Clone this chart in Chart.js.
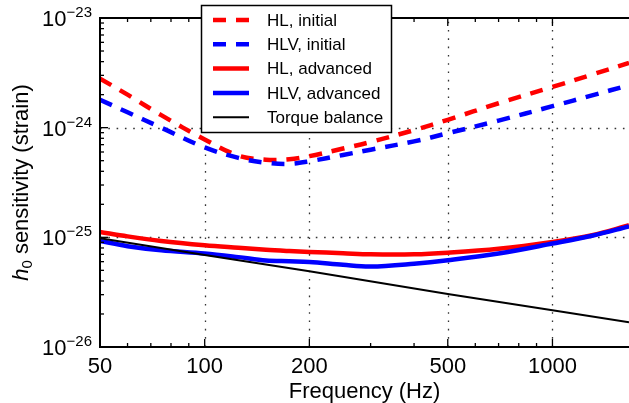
<!DOCTYPE html>
<html>
<head>
<meta charset="utf-8">
<script src="https://cdn.jsdelivr.net/npm/chart.js@4"></script>
<style>
  html, body { margin: 0; padding: 0; background: #fff; }
  #wrap { width: 629px; height: 403px; }
</style>
</head>
<body>
<div id="wrap"><canvas id="c"></canvas></div>
<script>
// ---- data ----
const freq = [50, 60, 75, 100, 125, 150, 175, 200, 250, 300, 400, 500, 700, 1000, 1300, 1660];
const hlInitial   = [2.8e-24, 2.0e-24, 1.30e-24, 7.8e-25, 5.56e-25, 5.1e-25, 5.15e-25, 5.5e-25, 6.45e-25, 7.4e-25, 9.5e-25, 1.18e-24, 1.67e-24, 2.35e-24, 3.05e-24, 3.9e-24];
const hlvInitial  = [1.80e-24, 1.38e-24, 1.0e-24, 6.6e-25, 5.3e-25, 4.79e-25, 4.68e-25, 4.94e-25, 5.64e-25, 6.3e-25, 7.5e-25, 8.9e-25, 1.16e-24, 1.57e-24, 1.97e-24, 2.44e-24];
const hlAdvanced  = [1.12e-25, 1.02e-25, 9.27e-26, 8.47e-26, 8.03e-26, 7.7e-26, 7.5e-26, 7.36e-26, 7.16e-26, 7.0e-26, 7.0e-26, 7.24e-26, 7.87e-26, 9.08e-26, 1.045e-25, 1.29e-25];
const hlvAdvanced = [9.27e-26, 8.3e-26, 7.62e-26, 7.13e-26, 6.6e-26, 6.14e-26, 6.05e-26, 5.97e-26, 5.62e-26, 5.42e-26, 5.75e-26, 6.18e-26, 7.11e-26, 8.77e-26, 1.035e-25, 1.26e-25];
const torqueFreq  = [50, 100, 200, 500, 1000, 1660];
const torque      = [9.8e-26, 6.9e-26, 4.9e-26, 3.05e-26, 2.16e-26, 1.68e-26];

const seriesLabels = ['HL, initial', 'HLV, initial', 'HL, advanced', 'HLV, advanced', 'Torque balance'];

const xMajorTicks = [50, 100, 200, 500, 1000];
const xMinorTicks = [60, 70, 80, 90, 300, 400, 600, 700, 800, 900];
const xGridTicks  = [100, 200, 500, 1000];
const yMajorTicks = [1e-26, 1e-25, 1e-24, 1e-23];
const yMajorExp   = ['\u221226', '\u221225', '\u221224', '\u221223'];
const yMinorTicks = [2e-26,3e-26,4e-26,5e-26,6e-26,7e-26,8e-26,9e-26,
                     2e-25,3e-25,4e-25,5e-25,6e-25,7e-25,8e-25,9e-25,
                     2e-24,3e-24,4e-24,5e-24,6e-24,7e-24,8e-24,9e-24];
const yGridTicks  = [1e-25, 1e-24];
const xTitle = 'Frequency (Hz)';

const pts = (xs, ys) => xs.map((v, i) => ({ x: v, y: ys[i] }));
const FONT = '"Liberation Sans", Arial, Helvetica, sans-serif';

const deco = {
  id: 'deco',
  beforeDatasetsDraw(chart) {
    const { ctx, chartArea: a, scales: { x, y } } = chart;
    ctx.save();
    ctx.strokeStyle = '#333';
    ctx.lineWidth = 1.3;
    ctx.setLineDash([1.6, 6.7]);
    xGridTicks.forEach(v => {
      const p = Math.round(x.getPixelForValue(v)) + 0.5;
      ctx.beginPath(); ctx.moveTo(p, a.bottom); ctx.lineTo(p, a.top); ctx.stroke();
    });
    yGridTicks.forEach(v => {
      const p = Math.round(y.getPixelForValue(v)) + 0.5;
      ctx.beginPath(); ctx.moveTo(a.left, p); ctx.lineTo(a.right, p); ctx.stroke();
    });
    ctx.restore();
  },
  afterDatasetsDraw(chart) {
    const { ctx, chartArea: a, scales: { x, y } } = chart;
    ctx.save();
    ctx.strokeStyle = '#000';
    ctx.lineWidth = 1.3;
    const tickX = (v, len) => {
      const p = x.getPixelForValue(v);
      ctx.beginPath(); ctx.moveTo(p, a.bottom); ctx.lineTo(p, a.bottom - len); ctx.stroke();
      ctx.beginPath(); ctx.moveTo(p, a.top); ctx.lineTo(p, a.top + len); ctx.stroke();
    };
    const tickY = (v, len) => {
      const p = y.getPixelForValue(v);
      ctx.beginPath(); ctx.moveTo(a.left, p); ctx.lineTo(a.left + len, p); ctx.stroke();
    };
    xMajorTicks.forEach(v => tickX(v, 8));
    xMinorTicks.forEach(v => tickX(v, 4));
    yMajorTicks.forEach(v => tickY(v, 8));
    yMinorTicks.forEach(v => tickY(v, 4));
    ctx.lineWidth = 2;
    ctx.beginPath();
    ctx.moveTo(a.right + 2, a.top); ctx.lineTo(a.left, a.top); ctx.lineTo(a.left, a.bottom); ctx.lineTo(a.right + 2, a.bottom);
    ctx.stroke();

    ctx.fillStyle = '#000';
    ctx.font = '22px ' + FONT;
    ctx.textAlign = 'center';
    ctx.textBaseline = 'alphabetic';
    xMajorTicks.forEach(v => {
      ctx.fillText(String(v), x.getPixelForValue(v), a.bottom + 26);
    });
    ctx.fillText(xTitle, (a.left + a.right) / 2, a.bottom + 51);

    yMajorTicks.forEach((v, i) => {
      const p = y.getPixelForValue(v);
      ctx.font = '15px ' + FONT;
      const ew = ctx.measureText(yMajorExp[i]).width;
      const right = a.left - 8;
      ctx.textAlign = 'left';
      ctx.fillText(yMajorExp[i], right - ew, p - 1);
      ctx.font = '22px ' + FONT;
      ctx.textAlign = 'right';
      ctx.fillText('10', right - ew, p + 8);
    });

    ctx.save();
    ctx.translate(28, (a.top + a.bottom) / 2);
    ctx.rotate(-Math.PI / 2);
    ctx.textAlign = 'left';
    const partH = 'h', part0 = '0', rest = ' sensitivity (strain)';
    ctx.font = 'italic 22px ' + FONT; const wH = ctx.measureText(partH).width;
    ctx.font = '15px ' + FONT; const w0 = ctx.measureText(part0).width;
    ctx.font = '22px ' + FONT; const wR = ctx.measureText(rest).width;
    let sx = -(wH + w0 + wR) / 2;
    ctx.font = 'italic 22px ' + FONT; ctx.fillText(partH, sx, 0); sx += wH;
    ctx.font = '15px ' + FONT; ctx.fillText(part0, sx, 4); sx += w0;
    ctx.font = '22px ' + FONT; ctx.fillText(rest, sx, 0);
    ctx.restore();

    const bx = 201.5, by = 5.5, bw = 190, bh = 127;
    ctx.fillStyle = '#fff';
    ctx.fillRect(bx, by, bw, bh);
    ctx.lineWidth = 1.5;
    ctx.strokeStyle = '#000';
    ctx.strokeRect(bx, by, bw, bh);
    ctx.font = '17px ' + FONT;
    ctx.textAlign = 'left';
    ctx.textBaseline = 'middle';
    chart.data.datasets.forEach((ds, i) => {
      const cy = 20 + i * 24.3;
      ctx.save();
      ctx.strokeStyle = ds.borderColor;
      ctx.lineWidth = ds.borderWidth;
      ctx.setLineDash(ds.borderDash || []);
      ctx.lineCap = 'butt';
      ctx.beginPath(); ctx.moveTo(213, cy); ctx.lineTo(249, cy); ctx.stroke();
      ctx.restore();
      ctx.fillStyle = '#000';
      ctx.fillText(ds.label, 267, cy + 1);
    });
    ctx.restore();
  }
};

new Chart(document.getElementById('c'), {
  type: 'line',
  data: {
    datasets: [
      { label: seriesLabels[0], data: pts(freq, hlInitial),   borderColor: '#ff0000', borderWidth: 4.5, borderDash: [13, 10], order: 5 },
      { label: seriesLabels[1], data: pts(freq, hlvInitial),  borderColor: '#0000ff', borderWidth: 4.5, borderDash: [13, 10], order: 4 },
      { label: seriesLabels[2], data: pts(freq, hlAdvanced),  borderColor: '#ff0000', borderWidth: 4.5, order: 3 },
      { label: seriesLabels[3], data: pts(freq, hlvAdvanced), borderColor: '#0000ff', borderWidth: 4.5, order: 2 },
      { label: seriesLabels[4], data: pts(torqueFreq, torque), borderColor: '#000000', borderWidth: 2, order: 1, tension: 0 }
    ]
  },
  options: {
    responsive: true,
    maintainAspectRatio: false,
    animation: false,
    devicePixelRatio: 1,
    layout: { padding: { left: 100, top: 18, right: 0, bottom: 56 } },
    elements: {
      point: { radius: 0, hoverRadius: 0 },
      line: { tension: 0.35, fill: false, borderCapStyle: 'butt' }
    },
    plugins: { legend: { display: false }, tooltip: { enabled: false } },
    scales: {
      x: { type: 'logarithmic', min: 50, max: 1660, display: false },
      y: { type: 'logarithmic', min: 1e-26, max: 1e-23, display: false }
    }
  },
  plugins: [deco]
});
</script>
</body>
</html>
